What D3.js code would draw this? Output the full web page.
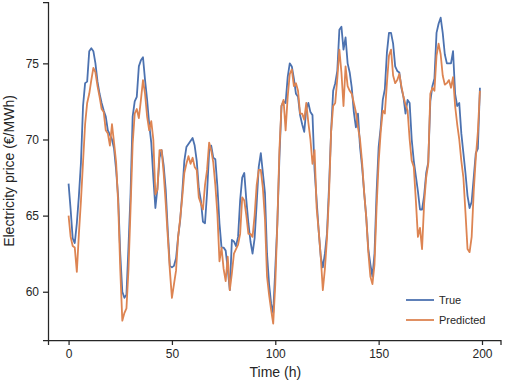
<!DOCTYPE html>
<html>
<head>
<meta charset="utf-8">
<script src="https://cdn.jsdelivr.net/npm/d3@7"></script>
<style>
  body { margin: 0; background: #fff; }
  text { font-family: "Liberation Sans", Arial, sans-serif; fill: #262626; }
</style>
</head>
<body>
<div id="chart"></div>
<script>
// hourly price
var trueVals = [
  67.1, 65.4, 63.5, 63.2, 64.5, 66.3, 68.5, 72.2, 73.7, 73.8,
  75.8, 76.0, 75.8, 75.0, 73.8, 73.0, 72.4, 71.9, 71.5, 70.6,
  70.3, 70.0, 69.4, 68.0, 66.2, 62.5, 60.0, 59.6, 59.8, 63.0,
  66.5, 71.5, 72.5, 72.8, 74.8, 75.2, 75.4, 73.9, 72.6, 71.0,
  69.8, 67.5, 65.5, 66.8, 68.8, 69.3, 68.3, 66.7, 64.0, 61.7,
  61.6, 61.7, 62.2, 63.6, 64.7, 66.5, 68.6, 69.5, 69.7, 69.9,
  70.1, 69.6, 68.6, 66.8, 66.0, 64.6, 64.5, 66.5, 69.2, 69.6,
  68.8, 68.7, 66.9, 64.5, 62.9, 62.9, 62.7, 61.5, 60.1, 63.4,
  63.3, 63.0, 63.6, 66.0, 67.5, 67.8, 66.0, 64.5, 63.3, 62.5,
  63.5, 65.8, 68.2, 69.1, 67.8, 66.5, 62.5, 60.5, 59.2, 58.6,
  61.5, 64.5, 68.8, 72.2, 72.5, 72.4, 74.1, 75.0, 74.8, 74.0,
  73.0, 72.8, 71.6, 71.0, 70.5, 72.0, 72.4, 71.8, 71.6, 68.0,
  66.0, 64.0, 62.3, 61.6, 62.5, 63.8, 66.9, 70.5, 73.2, 73.7,
  74.5, 77.2, 77.4, 75.9, 76.7, 75.0, 74.4, 73.4, 71.8, 70.8,
  71.7, 69.5, 68.2, 66.5, 64.9, 62.8, 61.8, 61.0, 62.5, 66.5,
  69.5, 70.8, 72.6, 73.3, 75.7, 77.0, 77.0, 76.3, 74.8, 74.5,
  74.4, 73.4, 72.8, 71.7, 72.6, 72.4, 70.0, 68.6, 67.6, 66.6,
  65.4, 65.4, 66.3, 67.8, 68.5, 72.5, 73.5, 74.0, 77.0, 77.6,
  78.0, 77.0, 75.6, 75.0, 75.0, 75.0, 75.8, 73.0, 72.2, 72.4,
  70.4, 69.1, 67.8, 66.3, 65.5, 65.9, 67.5, 69.1, 69.4, 73.4
];

var predVals = [
  65.0, 63.6, 63.0, 62.9, 61.3, 63.8, 66.0, 68.5, 71.0, 72.4,
  73.0, 73.9, 74.7, 74.4, 73.5, 72.8, 72.0, 71.8, 70.6, 70.4,
  69.6, 71.0, 69.8, 68.5, 65.8, 61.5, 58.1, 58.6, 58.9, 61.5,
  65.5, 69.7, 71.7, 72.0, 71.4, 72.6, 73.9, 73.0, 71.5, 70.6,
  71.2, 70.0, 66.4, 66.7, 69.3, 69.3, 67.8, 65.8, 63.6, 61.4,
  59.6, 60.5, 61.4, 63.6, 64.8, 66.2, 67.8, 68.4, 68.9, 68.4,
  68.8, 68.2, 68.0, 66.2, 65.8, 65.4, 67.0, 68.0, 69.8, 69.3,
  68.5, 67.0, 65.1, 62.0, 62.9, 61.5, 60.7, 62.3, 60.1, 61.2,
  62.5, 62.8, 63.1, 63.8, 66.2, 66.0, 65.0, 63.8, 63.8, 63.6,
  65.0, 67.0, 68.0, 68.0, 66.8, 64.8, 61.0, 59.8, 58.8, 57.9,
  60.5, 64.5, 69.3, 72.2, 72.6, 70.6, 72.8, 74.3, 74.6, 73.5,
  73.7, 73.2, 71.7, 71.7, 71.3, 72.4, 71.1, 70.0, 68.4, 69.3,
  65.5, 64.0, 62.3, 60.1, 61.5, 63.5, 66.4, 70.5, 72.2, 72.4,
  74.0, 75.9, 74.4, 72.2, 74.8, 73.5, 73.2, 73.0, 72.4, 71.8,
  70.8, 70.0, 68.5, 66.5, 64.9, 62.6, 61.0, 60.5, 61.8, 65.5,
  68.5, 70.5, 71.9, 71.7, 73.7, 75.5, 75.9, 74.2, 73.7, 73.9,
  74.3, 73.5, 72.8, 72.3, 71.9, 70.0, 68.6, 68.2, 66.0, 63.6,
  64.2, 62.8, 65.8, 67.5, 68.4, 73.0, 73.4, 73.2, 75.5, 76.3,
  75.6, 74.2, 73.6, 73.7, 73.9, 73.4, 74.1, 72.2, 71.0, 70.0,
  68.6, 67.5, 65.2, 62.8, 62.6, 63.6, 66.6, 68.8, 70.5, 73.2
];

var xTicks = [0, 50, 100, 150, 200];
var yTicks = [60, 65, 70, 75];
var seriesNames = ["True", "Predicted"];
var seriesColors = ["#4c72b0", "#dd8452"];

var svgWidth = 505;
var svgHeight = 382;

var margin = { top: 2, right: 4.5, bottom: 42, left: 48 };
var width = svgWidth - margin.left - margin.right;
var height = svgHeight - margin.top - margin.bottom;

var svg = d3.select("#chart")
  .append("svg")
  .attr("width", svgWidth)
  .attr("height", svgHeight);

var chartGroup = svg.append("g")
  .attr("transform", `translate(${margin.left}, ${margin.top})`);

// scales (matplotlib-ish 5% padding)
var xScale = d3.scaleLinear()
  .domain([-9.95, 208.95])
  .range([0, width]);

var yScale = d3.scaleLinear()
  .domain([56.83, 79.03])
  .range([height, 0]);

var bottomAxis = d3.axisBottom(xScale).tickValues(xTicks).tickSize(5).tickPadding(4);
var leftAxis = d3.axisLeft(yScale).tickValues(yTicks).tickSize(5).tickPadding(4);

var xAxisG = chartGroup.append("g")
  .attr("transform", `translate(0, ${height})`)
  .call(bottomAxis);

var yAxisG = chartGroup.append("g")
  .call(leftAxis);

[xAxisG, yAxisG].forEach(function(g) {
  g.select(".domain").attr("stroke", "#262626").attr("stroke-width", 1.25);
  g.selectAll(".tick line").attr("stroke", "#262626").attr("stroke-width", 1.25);
  g.selectAll(".tick text")
    .attr("font-size", 12)
    .attr("font-family", "Liberation Sans, Arial, sans-serif")
    .attr("fill", "#262626");
});

// the two lines
var line = d3.line()
  .x(function(d, i) { return xScale(i); })
  .y(function(d) { return yScale(d); });

[trueVals, predVals].forEach(function(vals, k) {
  chartGroup.append("path")
    .datum(vals)
    .attr("fill", "none")
    .attr("stroke", seriesColors[k])
    .attr("stroke-width", 1.8)
    .attr("stroke-linejoin", "round")
    .attr("d", line);
});

// legend
var legend = chartGroup.append("g")
  .attr("transform", `translate(${358}, ${298})`);

seriesNames.forEach(function(name, k) {
  var row = legend.append("g").attr("transform", `translate(0, ${k * 20})`);
  row.append("line")
    .attr("x1", 0).attr("x2", 28)
    .attr("y1", 0).attr("y2", 0)
    .attr("stroke", seriesColors[k])
    .attr("stroke-width", 1.8);
  row.append("text")
    .attr("x", 33)
    .attr("y", 4)
    .attr("font-size", 11)
    .text(name);
});

// axis labels
chartGroup.append("text")
  .attr("transform", "rotate(-90)")
  .attr("x", 0 - (height / 2))
  .attr("y", 0 - margin.left + 14)
  .attr("text-anchor", "middle")
  .attr("font-size", 14)
  .text("Electricity price (€/MWh)");

chartGroup.append("text")
  .attr("x", xScale(100))
  .attr("y", height + 37)
  .attr("text-anchor", "middle")
  .attr("font-size", 14)
  .text("Time (h)");
</script>
</body>
</html>
